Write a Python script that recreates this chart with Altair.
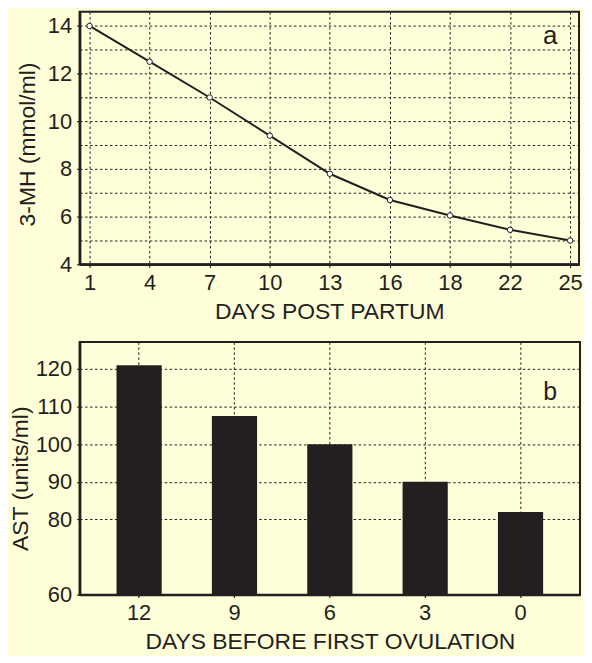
import altair as alt
import pandas as pd

# ---- data ----
days_post = ["1", "4", "7", "10", "13", "16", "18", "22", "25"]
mh_values = [14.0, 12.5, 11.0, 9.4, 7.8, 6.7, 6.05, 5.45, 5.0]

days_before = ["12", "9", "6", "3", "0"]
ast_values = [121, 107.5, 100, 90, 82]

mh_ticks = [4, 5, 6, 7, 8, 9, 10, 11, 12, 13, 14]
ast_ticks = [60, 80, 90, 100, 110, 120]

INK = "#231F20"
BG = "#FEFED8"
FONT = "Liberation Sans"
DASH = [2.5, 2.5]

df_a = pd.DataFrame({"day": days_post, "mh": mh_values})
df_b = pd.DataFrame({"day": days_before, "ast": ast_values})

common_axis = dict(
    labelFont=FONT, titleFont=FONT, labelFontSize=22, titleFontSize=23,
    labelColor=INK, titleColor=INK, titleFontWeight="normal",
    domainColor=INK, domainWidth=2.5, tickColor=INK, tickSize=3, tickWidth=1.2,
    gridColor=INK, gridDash=DASH, gridWidth=1, gridOpacity=1,
)

W_A, W_B, H = 502, 503, 254

# ---- panel a ----
xa = alt.X(
    "day:O", sort=days_post,
    scale=alt.Scale(type="point", padding=0.157, align=0.526),
    axis=alt.Axis(title="DAYS POST PARTUM", labelAngle=0, grid=True,
                  labelPadding=5, titleY=54, titleBaseline="alphabetic",
                  **common_axis),
)
ya = alt.Y(
    "mh:Q",
    scale=alt.Scale(domain=[4, 14.6], nice=False, zero=False),
    axis=alt.Axis(title="3-MH (mmol/ml)", values=mh_ticks, grid=True,
                  labelExpr="datum.value % 2 === 0 ? datum.label : ''",
                  tickOpacity={"condition": {"test": "datum.value % 2 === 0", "value": 1}, "value": 0},
                  labelPadding=5, titleX=-45, titleY=133, titleBaseline="alphabetic",
                  **common_axis),
)

base_a = alt.Chart(df_a).encode(x=xa, y=ya)
line_a = base_a.mark_line(color=INK, strokeWidth=2)
pts_a = base_a.mark_point(shape="circle", filled=True, fill="white", stroke=INK,
                          strokeWidth=1, size=30, opacity=1)
lab_a = alt.Chart(pd.DataFrame({"t": ["a"]})).mark_text(
    font=FONT, fontSize=26, color=INK, baseline="alphabetic", align="center"
).encode(x=alt.value(473), y=alt.value(33), text="t:N")

panel_a = alt.layer(line_a, pts_a, lab_a).properties(width=W_A, height=H)

# ---- panel b ----
xb = alt.X(
    "day:O", sort=days_before,
    scale=alt.Scale(type="band", paddingInner=0.526, paddingOuter=0.387),
    axis=alt.Axis(title="DAYS BEFORE FIRST OVULATION", labelAngle=0, grid=True,
                  bandPosition=0.5, labelPadding=5, titleY=54,
                  titleBaseline="alphabetic", **common_axis),
)
yb = alt.Y(
    "ast:Q",
    scale=alt.Scale(domain=[60, 127.2], nice=False, zero=False),
    axis=alt.Axis(title="AST (units/ml)", values=ast_ticks, grid=True,
                  labelPadding=5, titleX=-52, titleY=137, titleBaseline="alphabetic",
                  **common_axis),
)
bars_b = alt.Chart(df_b).mark_bar(color=INK, clip=True).encode(x=xb, y=yb, y2=alt.datum(60))
lab_b = alt.Chart(pd.DataFrame({"t": ["b"]})).mark_text(
    font=FONT, fontSize=25, color=INK, baseline="alphabetic", align="center"
).encode(x=alt.value(473), y=alt.value(58), text="t:N")

panel_b = alt.layer(bars_b, lab_b).properties(width=W_B, height=H)

chart = alt.vconcat(panel_a, panel_b, spacing=78, bounds="flush").properties(
    background=BG,
    padding={"left": 0, "top": 1, "right": 0, "bottom": 0},
).configure_view(stroke=INK, strokeWidth=2, fill=BG)

chart.save("out.html", embed_options={"renderer": "svg", "actions": False})
